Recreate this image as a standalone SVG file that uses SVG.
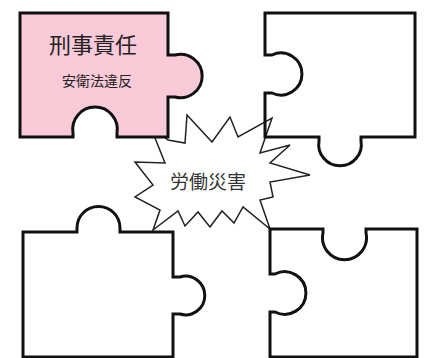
<svg xmlns="http://www.w3.org/2000/svg" width="427" height="358" viewBox="0 0 427 358">
<style>
.piece{stroke:#111;stroke-width:3;stroke-linejoin:miter;fill:none}
.pink{fill:#f9cbd8}
.star{fill:#fff;stroke:#222;stroke-width:1.5;stroke-linejoin:miter}
.t{font-family:"Noto Sans CJK JP","Noto Sans",sans-serif;text-anchor:middle}
</style>
<rect width="427" height="358" fill="#fff"/>
<g id="star">
<polygon class="star" points="150,125 168,140 185,143 187,115 212,142 230,117 238,137 272,118 260,153 290,145 270,163 310,175 270,182 273,197 260,200 270,229 243,207 234,223 222,211 210,227 198,212 185,226 178,211 153,230 160,210 135,197 153,185 135,162 165,163 155,138"/>
<text class="t" x="208" y="189" font-size="19" fill="#333">労働災害</text>
</g>
<g id="piece2">
<path class="piece" d="M265,13 H415 V137 H361 V141 A21.3,21.3 0 1 1 319,141 V137 H265 V93 H272 A21,21 0 1 0 272,55 H265 Z"/>
</g>
<g id="piece3">
<path class="piece" d="M23,357 V232 H77 V228 A21.5,21.5 0 1 1 120,228 V232 H173 V277 H180 A19.3,19.3 0 1 1 180,314 H173 V357 Z"/>
</g>
<g id="piece4">
<path class="piece" d="M270,229 H323 V233 A22,22 0 1 0 366,233 V229 H417 V357 H270 V312 H275 A21.3,21.3 0 1 0 275,274 H270 Z"/>
</g>
<g id="piece1">
<path class="piece pink" d="M20,13 H168 V55 H175 A21.7,21.7 0 1 1 175,97 H168 V137 H117 V133 A22.3,22.3 0 1 0 73,133 V137 H20 Z"/>
<text class="t" x="93" y="53" font-size="22" fill="#222">刑事責任</text>
<text class="t" x="97" y="86" font-size="14" fill="#222">安衛法違反</text>
</g>
<g id="connectors"/>
</svg>
